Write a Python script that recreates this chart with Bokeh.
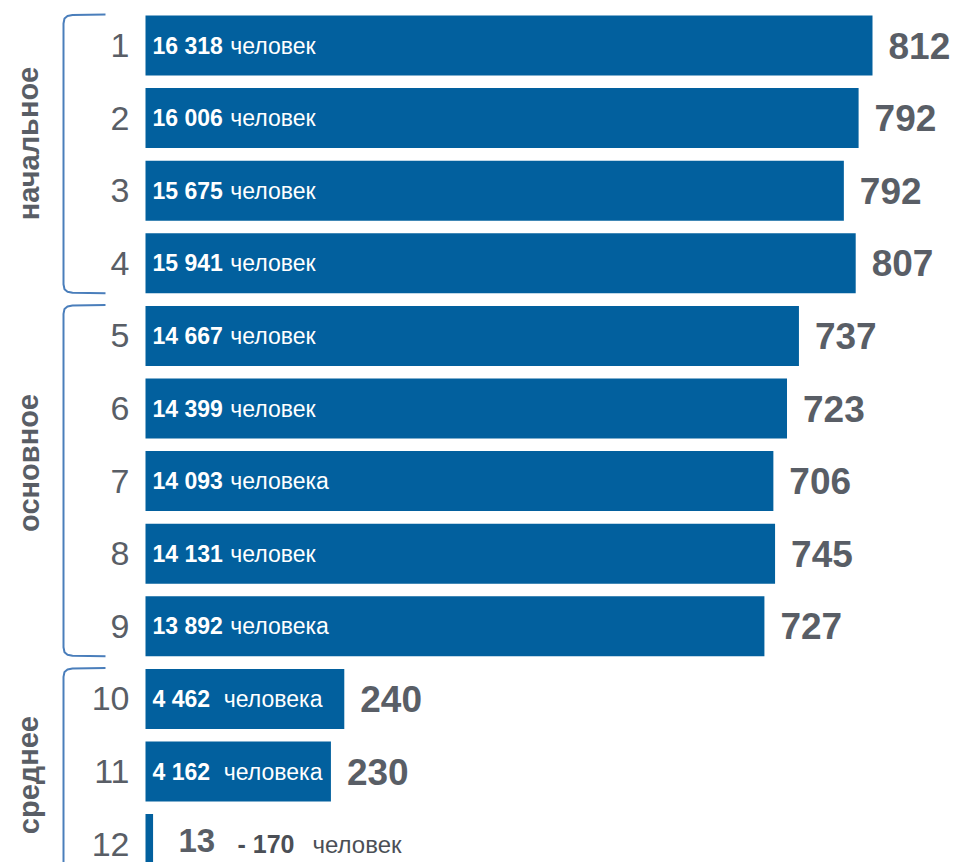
from bokeh.plotting import figure
from bokeh.models import Range1d, ColumnDataSource
from bokeh.core.properties import value
from bokeh.embed import file_html
from bokeh.resources import INLINE

# ---------------- data ----------------
rows = list(range(1, 13))
people = [16318, 16006, 15675, 15941, 14667, 14399, 14093, 14131, 13892, 4462, 4162, 170]
nouns = ["человек", "человек", "человек", "человек", "человек", "человек",
         "человека", "человек", "человека", "человека", "человека", "человек"]
classes = [812, 792, 792, 807, 737, 723, 706, 745, 727, 240, 230, 13]
groups = ["начальное", "основное", "среднее"]
group_first = [1, 5, 10]
group_last = [4, 9, 12]

# ---------------- layout ----------------
FIG_W, FIG_H = 953, 862
PX_PER_PERSON = 727 / 16318      # horizontal scale
PX_PER_ROW = 72.6                # vertical scale
BAR_LEFT_PX = 145                # bar start inside the figure
ROW1_PX = 45                     # centre of row 1 inside the figure
BAR_H = 60 / PX_PER_ROW

x0 = -BAR_LEFT_PX / PX_PER_PERSON
x1 = x0 + FIG_W / PX_PER_PERSON
y_top = 1 - ROW1_PX / PX_PER_ROW
y_bot = y_top + FIG_H / PX_PER_ROW


def px_x(px):
    return x0 + px / PX_PER_PERSON


def px_dy(px):
    return px / PX_PER_ROW


BAR = "#02609e"
GREY = "#595e66"
DARK = "#4b4f56"
BRACKET = "#4a7ebb"
FONT = value("Liberation Sans")

p = figure(width=FIG_W, height=FIG_H, x_range=Range1d(x0, x1), y_range=Range1d(y_bot, y_top),
           output_backend="svg", toolbar_location=None, min_border=0,
           x_axis_location=None, y_axis_location=None)
p.grid.visible = False
p.outline_line_color = None
p.background_fill_color = "white"
p.border_fill_color = "white"

# bars
p.hbar(y=rows, left=0, right=people, height=BAR_H, fill_color=BAR, line_color=None)


def fmt(v):
    return f"{v:,}".replace(",", " ")


def bold_width(s, size):
    w = 0
    for c in s:
        w += 0.278 if c == " " else 0.556
    return w * size


# inner labels (rows 1-11)
IN_SIZE = 23
inner = [i for i in range(len(rows)) if people[i] > 1000]
num_txt = [fmt(people[i]) for i in inner]
gap = [2 if people[i] < 10000 else 1 for i in inner]
src_in = ColumnDataSource(dict(
    y=[rows[i] for i in inner],
    x=[0] * len(inner),
    num=num_txt,
    noun=[nouns[i] for i in inner],
    noff=[7 + bold_width(num_txt[j], IN_SIZE) + gap[j] * 0.278 * IN_SIZE + 1 for j in range(len(inner))],
))
p.text(x="x", y="y", text="num", source=src_in, x_offset=7, text_font=FONT,
       text_font_style="bold", text_font_size=f"{IN_SIZE}px", text_color="white",
       text_baseline="middle", text_align="left")
p.text(x="x", y="y", text="noun", source=src_in, x_offset="noff", text_font=FONT,
       text_font_size=f"{IN_SIZE}px", text_color="white",
       text_baseline="middle", text_align="left")

# right values (rows 1-11)
src_r = ColumnDataSource(dict(
    y=[rows[i] for i in inner],
    x=[people[i] for i in inner],
    t=[str(classes[i]) for i in inner],
))
p.text(x="x", y="y", text="t", source=src_r, x_offset=16, text_font=FONT,
       text_font_style="bold", text_font_size="37px", text_color=GREY,
       text_baseline="middle", text_align="left")

# row 12 (small bar, labels outside)
last = len(rows) - 1
p.text(x=[0], y=[rows[last]], text=[str(classes[last])], x_offset=33, y_offset=-4,
       text_font=FONT, text_font_style="bold", text_font_size="33px", text_color=GREY,
       text_baseline="middle", text_align="left")
p.text(x=[0], y=[rows[last]], text=["- " + str(people[last])], x_offset=92, y_offset=0,
       text_font=FONT, text_font_style="bold", text_font_size="25px", text_color=DARK,
       text_baseline="middle", text_align="left")
p.text(x=[0], y=[rows[last]], text=[nouns[last]], x_offset=167, y_offset=0,
       text_font=FONT, text_font_size="24px", text_color=DARK,
       text_baseline="middle", text_align="left")

# row numbers
p.text(x=[px_x(129)] * len(rows), y=rows, text=[str(r) for r in rows],
       text_font=FONT, text_font_size="34px", text_color=GREY,
       text_baseline="middle", text_align="right")

# brackets and group labels
bx_v = px_x(63)
bx_e = px_x(105)
label_shift = [-0.15, -0.25, 0.05]
for g in range(len(groups)):
    yt = group_first[g] - BAR_H / 2 - px_dy(1)
    yb = group_last[g] + BAR_H / 2
    xs = [bx_e, px_x(72), px_x(67), px_x(64), bx_v, bx_v, px_x(64), px_x(67), px_x(72), bx_e]
    ys = [yt, yt + px_dy(0.5), yt + px_dy(1.5), yt + px_dy(4), yt + px_dy(9),
          yb - px_dy(9), yb - px_dy(4), yb - px_dy(1.5), yb - px_dy(0.5), yb]
    p.line(xs, ys, line_color=BRACKET, line_width=2)
    ymid = (group_first[g] + group_last[g]) / 2 + label_shift[g]
    p.text(x=[px_x(28)], y=[ymid], text=[groups[g]], angle=1.5708,
           text_font=FONT, text_font_style="bold", text_font_size="29px", text_color=GREY,
           text_baseline="middle", text_align="center")

open("out.html", "w").write(file_html(p, INLINE))
